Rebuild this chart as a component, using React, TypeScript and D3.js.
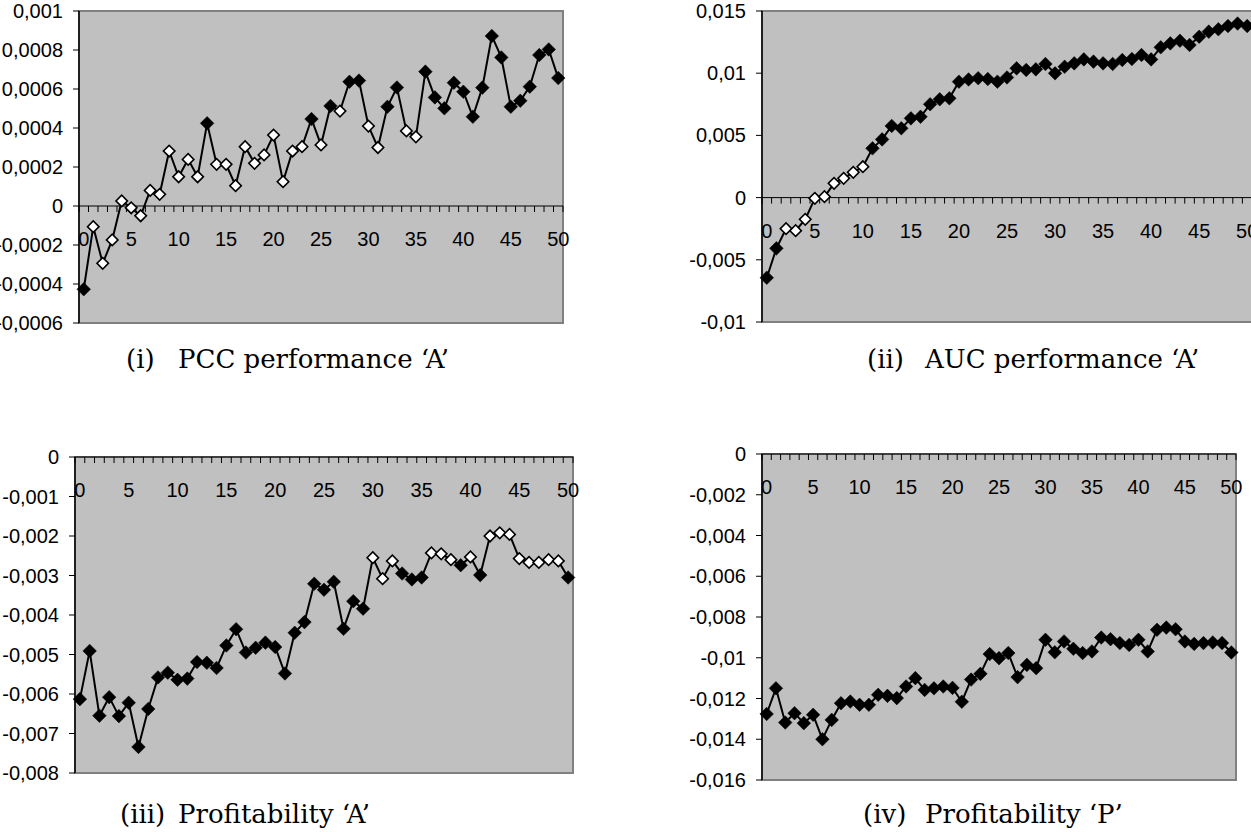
import { useEffect, useRef } from 'react';
import * as d3 from 'd3';

const categories = d3.range(0, 51);
const xTickLabels = ['0', '5', '10', '15', '20', '25', '30', '35', '40', '45', '50'];

// (i) PCC performance 'A'
const pccValues = [
  -0.000427, -0.000106, -0.000294, -0.000174, 0.000026, -0.000009, -0.00005, 0.00008, 0.00006, 0.000282,
  0.00015, 0.000239, 0.00015, 0.000424, 0.000214, 0.000214, 0.000104, 0.000304, 0.000219, 0.000262,
  0.000364, 0.000125, 0.000282, 0.000304, 0.000446, 0.000313, 0.000513, 0.000487, 0.000637, 0.000643,
  0.00041, 0.0003, 0.000509, 0.000608, 0.000385, 0.000355, 0.000689, 0.000557, 0.000501, 0.000632,
  0.000586, 0.000458, 0.000607, 0.000872, 0.000762, 0.000509, 0.00054, 0.000612, 0.000774, 0.000803,
  0.000656,
];
const pccOpen = [1, 2, 3, 4, 5, 6, 7, 8, 9, 10, 11, 12, 14, 15, 16, 17, 18, 19, 20, 21, 22, 23, 25, 27, 30, 31, 34, 35];
const pccTicks = [0.001, 0.0008, 0.0006, 0.0004, 0.0002, 0, -0.0002, -0.0004, -0.0006];

// (ii) AUC performance 'A'
const aucValues = [
  -0.00644, -0.00408, -0.0025, -0.00266, -0.00175, -0.00006, 0.00007, 0.00115, 0.00155, 0.00203,
  0.00248, 0.00396, 0.00468, 0.00576, 0.00557, 0.00637, 0.0065, 0.0075, 0.0079, 0.00798,
  0.00932, 0.0095, 0.0096, 0.00953, 0.00932, 0.00966, 0.01039, 0.01026, 0.01031, 0.01074,
  0.00999, 0.01052, 0.01079, 0.01111, 0.01093, 0.01079, 0.01074, 0.01106, 0.01114, 0.01146,
  0.01111, 0.01208, 0.0124, 0.01261, 0.01227, 0.01293, 0.01334, 0.01353, 0.01379, 0.01399,
  0.01379,
];
const aucOpen = [2, 3, 4, 5, 6, 7, 8, 9, 10];
const aucTicks = [0.015, 0.01, 0.005, 0, -0.005, -0.01];

// (iii) Profitability 'A'
const profAValues = [
  -0.00613, -0.00491, -0.00655, -0.00608, -0.00656, -0.00622, -0.00734, -0.00638, -0.00558, -0.00546,
  -0.00564, -0.00561, -0.00519, -0.00521, -0.00534, -0.00477, -0.00436, -0.00495, -0.00483, -0.0047,
  -0.00481, -0.00548, -0.00445, -0.00418, -0.00321, -0.00336, -0.00316, -0.00435, -0.00365, -0.00384,
  -0.00255, -0.00308, -0.00263, -0.00295, -0.0031, -0.00305, -0.00243, -0.00245, -0.0026, -0.00274,
  -0.00253, -0.00299, -0.002, -0.00192, -0.00196, -0.00257, -0.00267, -0.00267, -0.0026, -0.00263,
  -0.00305,
];
const profAOpen = [30, 31, 32, 36, 37, 38, 40, 42, 43, 44, 45, 46, 47, 48, 49];
const profATicks = [0, -0.001, -0.002, -0.003, -0.004, -0.005, -0.006, -0.007, -0.008];

// (iv) Profitability 'P'
const profPValues = [
  -0.01276, -0.0115, -0.01318, -0.01272, -0.01321, -0.0128, -0.014, -0.01305, -0.01223, -0.01215,
  -0.01231, -0.01231, -0.01182, -0.01187, -0.01198, -0.01141, -0.011, -0.01158, -0.0115, -0.01141,
  -0.01148, -0.01216, -0.01107, -0.01079, -0.00982, -0.01002, -0.00977, -0.01095, -0.01035, -0.01051,
  -0.00912, -0.00973, -0.0092, -0.00956, -0.00977, -0.00969, -0.00901, -0.00909, -0.00928, -0.00937,
  -0.00912, -0.00969, -0.00863, -0.00852, -0.0086, -0.0092, -0.00932, -0.00928, -0.00925, -0.00928,
  -0.00974,
];
const profPOpen: number[] = [];
const profPTicks = [0, -0.002, -0.004, -0.006, -0.008, -0.01, -0.012, -0.014, -0.016];

const panels = [
  { values: pccValues, open: pccOpen, ticks: pccTicks, x: 79, y: 11, w: 484, h: 312, label: '(i)', title: 'PCC performance ‘A’', labX: 126, capX: 178, capY: 368 },
  { values: aucValues, open: aucOpen, ticks: aucTicks, x: 762, y: 11, w: 490, h: 311, label: '(ii)', title: 'AUC performance ‘A’', labX: 867, capX: 925, capY: 368 },
  { values: profAValues, open: profAOpen, ticks: profATicks, x: 75, y: 457, w: 498, h: 316, label: '(iii)', title: 'Profitability ‘A’', labX: 120, capX: 178, capY: 823 },
  { values: profPValues, open: profPOpen, ticks: profPTicks, x: 762, y: 454, w: 474, h: 326, label: '(iv)', title: 'Profitability ‘P’', labX: 863, capX: 925, capY: 823 },
];

const fmt = (v: number) => String(v).replace('.', ',');
const captionFont = '"Palatino Linotype", "Book Antiqua", Palatino, "DejaVu Serif", serif';

const App = () => {
  const svgRef = useRef<SVGSVGElement>(null);

  useEffect(() => {
    const svg = d3.select(svgRef.current);
    svg.selectAll('*').remove();

    panels.forEach((p) => {
      const g = svg.append('g');

      const xScale = d3.scaleBand<number>()
        .domain(categories)
        .range([p.x, p.x + p.w])
        .padding(0);

      const yScale = d3.scaleLinear()
        .domain([d3.min(p.ticks)!, d3.max(p.ticks)!])
        .range([p.y + p.h, p.y]);

      const cx = (i: number) => xScale(i)! + xScale.bandwidth() / 2;
      const y0 = yScale(0);

      // plot area
      g.append('rect')
        .attr('x', p.x).attr('y', p.y)
        .attr('width', p.w).attr('height', p.h)
        .attr('fill', '#c0c0c0')
        .attr('stroke', '#808080')
        .attr('stroke-width', 2);

      // y axis
      g.append('line')
        .attr('x1', p.x).attr('x2', p.x)
        .attr('y1', p.y).attr('y2', p.y + p.h)
        .attr('stroke', '#000').attr('stroke-width', 1.5);

      g.selectAll('.ytick')
        .data(p.ticks)
        .enter().append('line')
        .attr('x1', p.x - 6).attr('x2', p.x)
        .attr('y1', d => yScale(d)).attr('y2', d => yScale(d))
        .attr('stroke', '#000').attr('stroke-width', 1);

      g.selectAll('.ylab')
        .data(p.ticks)
        .enter().append('text')
        .attr('x', p.x - 16)
        .attr('y', d => yScale(d))
        .attr('dy', '0.35em')
        .attr('text-anchor', 'end')
        .attr('font-family', '"Liberation Sans", Arial, sans-serif')
        .attr('font-size', 20)
        .attr('fill', '#000')
        .text(d => fmt(d));

      // x axis at zero
      g.append('line')
        .attr('x1', p.x).attr('x2', p.x + p.w)
        .attr('y1', y0).attr('y2', y0)
        .attr('stroke', '#000').attr('stroke-width', 1);

      g.selectAll('.xtick')
        .data(d3.range(0, categories.length + 1))
        .enter().append('line')
        .attr('x1', d => p.x + d * xScale.bandwidth())
        .attr('x2', d => p.x + d * xScale.bandwidth())
        .attr('y1', y0).attr('y2', y0 + 6)
        .attr('stroke', '#000').attr('stroke-width', 1);

      g.selectAll('.xlab')
        .data(xTickLabels)
        .enter().append('text')
        .attr('x', d => cx(+d))
        .attr('y', y0 + 40)
        .attr('text-anchor', 'middle')
        .attr('font-family', '"Liberation Sans", Arial, sans-serif')
        .attr('font-size', 20)
        .attr('fill', '#000')
        .text(d => d);

      // line
      const line = d3.line<number>()
        .x((_, i) => cx(categories[i]))
        .y(d => yScale(d));

      g.append('path')
        .attr('d', line(p.values))
        .attr('fill', 'none')
        .attr('stroke', '#000')
        .attr('stroke-width', 2);

      // markers
      const filledSym = d3.symbol(d3.symbolSquare, 92);
      const openSym = d3.symbol(d3.symbolSquare, 66);

      g.selectAll('.marker')
        .data(p.values)
        .enter().append('path')
        .attr('transform', (d, i) => `translate(${cx(categories[i])},${yScale(d)}) rotate(45)`)
        .attr('d', (_, i) => (p.open.includes(i) ? openSym() : filledSym()))
        .attr('fill', (_, i) => (p.open.includes(i) ? '#fff' : '#000'))
        .attr('stroke', '#000')
        .attr('stroke-width', (_, i) => (p.open.includes(i) ? 1.6 : 0.5));

      // caption
      g.append('text')
        .attr('x', p.labX)
        .attr('y', p.capY)
        .attr('font-family', captionFont)
        .attr('font-size', 26)
        .attr('fill', '#000')
        .text(p.label);

      g.append('text')
        .attr('x', p.capX)
        .attr('y', p.capY)
        .attr('font-family', captionFont)
        .attr('font-size', 26)
        .attr('fill', '#000')
        .text(p.title);
    });
  }, []);

  return (
    <div>
      <svg
        ref={svgRef}
        width={1251}
        height={832}
        style={{ position: 'absolute', left: 0, top: 0, background: '#fff' }}
      />
    </div>
  );
};

export default App;
